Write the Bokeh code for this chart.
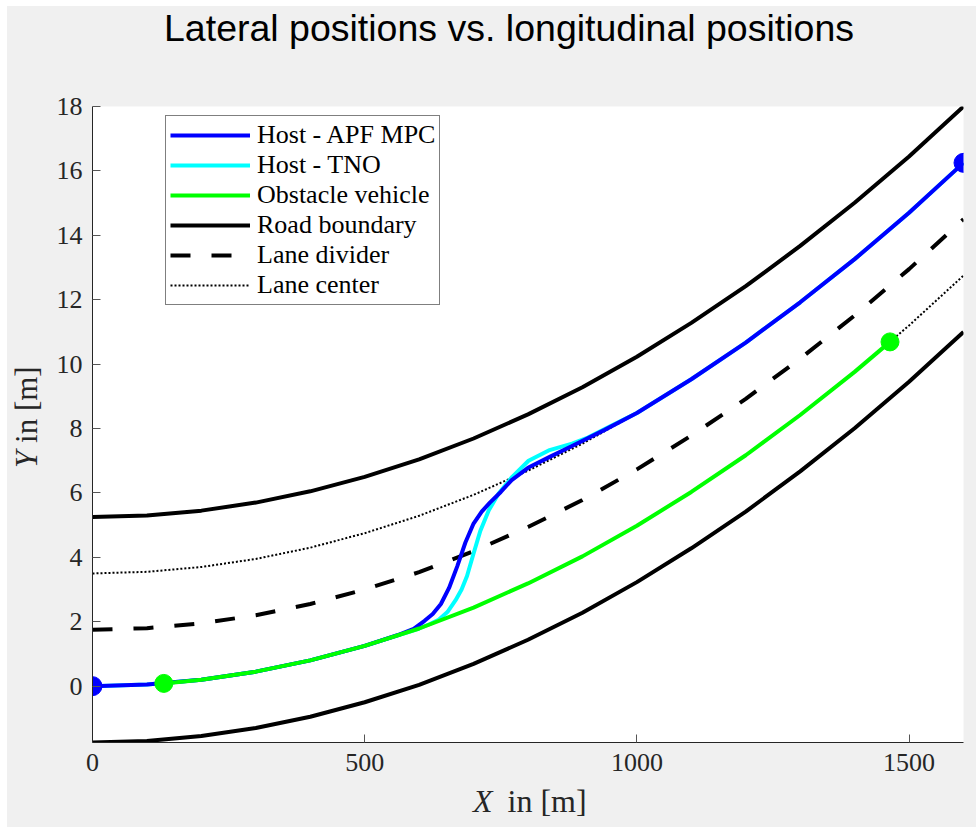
from bokeh.plotting import figure
from bokeh.layouts import column, row
from bokeh.models import Range1d, Legend, LegendItem, FixedTicker
from bokeh.core.properties import value
from bokeh.embed import file_html
from bokeh.resources import INLINE

# ---------------- data ----------------
road_x = [0, 100, 200, 300, 400, 500, 600, 700, 800, 900, 1000, 1100, 1200, 1300, 1400, 1500, 1600]
upper_boundary = [5.25, 5.30, 5.45, 5.70, 6.05, 6.50, 7.04, 7.69, 8.44, 9.28, 10.23, 11.28, 12.42, 13.67, 15.01, 16.45, 18.0]
lower_boundary = [-1.75, -1.70, -1.55, -1.30, -0.95, -0.50, 0.04, 0.69, 1.44, 2.28, 3.23, 4.28, 5.42, 6.67, 8.01, 9.45, 11.0]
lane_divider = [1.75, 1.80, 1.95, 2.20, 2.55, 3.00, 3.54, 4.19, 4.94, 5.78, 6.73, 7.78, 8.92, 10.17, 11.51, 12.95, 14.5]
center_upper = [3.5, 3.55, 3.70, 3.95, 4.30, 4.75, 5.29, 5.94, 6.69, 7.53, 8.48, 9.53, 10.67, 11.92, 13.26, 14.70, 16.25]
center_lower = [0.0, 0.05, 0.20, 0.45, 0.80, 1.25, 1.79, 2.44, 3.19, 4.03, 4.98, 6.03, 7.17, 8.42, 9.76, 11.20, 12.75]

apf_x = [0, 100, 200, 300, 400, 500, 560, 590, 610, 625, 640, 655, 670, 685, 700, 715, 730, 750, 770, 800,
         840, 880, 940, 1000, 1100, 1200, 1300, 1400, 1500, 1600]
apf_y = [0.0, 0.05, 0.20, 0.45, 0.80, 1.25, 1.58, 1.78, 2.03, 2.24, 2.55, 3.05, 3.72, 4.46, 5.05, 5.42, 5.70, 6.03, 6.40, 6.78,
         7.12, 7.45, 7.95, 8.48, 9.53, 10.67, 11.92, 13.26, 14.70, 16.25]

tno_x = [0, 100, 200, 300, 400, 500, 600, 620, 636, 652, 667, 678, 688, 700, 712, 728, 746, 771, 801, 838, 881, 910,
         950, 1000, 1100, 1200, 1300, 1400, 1500, 1600]
tno_y = [0.0, 0.05, 0.20, 0.45, 0.80, 1.25, 1.79, 1.93, 2.06, 2.30, 2.67, 3.00, 3.42, 4.12, 4.80, 5.46, 5.98, 6.50, 7.00, 7.32, 7.53, 7.72,
         8.06, 8.48, 9.53, 10.67, 11.92, 13.26, 14.70, 16.25]

obs_x = [131, 200, 300, 400, 500, 600, 700, 800, 900, 1000, 1100, 1200, 1300, 1400, 1465]
obs_y = [0.085, 0.20, 0.45, 0.80, 1.25, 1.79, 2.44, 3.19, 4.03, 4.98, 6.03, 7.17, 8.42, 9.76, 10.69]

apf_marker_x = [0, 1600]
apf_marker_y = [0.0, 16.25]
obs_marker_x = [131, 1465]
obs_marker_y = [0.085, 10.69]

x_ticks = [0, 500, 1000, 1500]
y_ticks = [0, 2, 4, 6, 8, 10, 12, 14, 16, 18]

TITLE = "Lateral positions vs. longitudinal positions"
SERIF = "Liberation Serif"
AX = "#262626"
BG = "#f0f0f0"


def strip(w, h):
    f = figure(width=w, height=h, x_range=Range1d(0, w), y_range=Range1d(0, h),
               min_border=0, x_axis_type=None, y_axis_type=None, toolbar_location=None,
               output_backend="svg", background_fill_color=BG, border_fill_color=BG,
               outline_line_color=None)
    return f


# ---- title strip (page y 6..60) ----
tf = strip(969, 54)
tf.text(x=[501.5], y=[33], text=[TITLE], text_font=value("Liberation Sans"), text_font_size=value("37.5px"),
        text_align="center", text_baseline="alphabetic", text_color="black")

# ---- y-label strip (page x 7..52, y 60..784) ----
yf = strip(45, 724)
yf.text(x=[19], y=[332], text=["Y"], angle=1.5707963, text_font=value(SERIF), text_font_style="italic",
        text_font_size=value("31px"), text_align="right", text_baseline="alphabetic", text_color=AX)
yf.text(x=[19], y=[341], text=["in [m]"], angle=1.5707963, text_font=value(SERIF),
        text_font_size=value("31px"), text_align="left", text_baseline="alphabetic", text_color=AX)

# ---- x-label strip (page y 784..827) ----
xf = strip(969, 43)
xf.text(x=[485], y=[27], text=["X"], text_font=value(SERIF), text_font_style="italic",
        text_font_size=value("32px"), text_align="right", text_baseline="alphabetic", text_color=AX)
xf.text(x=[500], y=[27], text=["in [m]"], text_font=value(SERIF),
        text_font_size=value("32px"), text_align="left", text_baseline="alphabetic", text_color=AX)

# ---- main plot ----
p = figure(width=924, height=724, output_backend="svg", toolbar_location=None,
           x_range=Range1d(0, 1600), y_range=Range1d(-1.75, 18),
           min_border_left=40, min_border_right=13, min_border_top=46, min_border_bottom=42,
           background_fill_color="white", border_fill_color=BG, outline_line_color=None)

p.xgrid.visible = False
p.ygrid.visible = False
p.xaxis.ticker = FixedTicker(ticks=x_ticks)
p.yaxis.ticker = FixedTicker(ticks=y_ticks)
for ax in (p.xaxis[0], p.yaxis[0]):
    ax.axis_line_color = AX
    ax.axis_line_width = 1
    ax.major_tick_in = 8
    ax.major_tick_out = 0
    ax.minor_tick_in = 0
    ax.minor_tick_out = 0
    ax.major_tick_line_color = "#555555"
    ax.major_label_text_font = SERIF
    ax.major_label_text_font_size = "26px"
    ax.major_label_text_color = AX
p.xaxis.major_label_standoff = 11
p.yaxis.major_label_standoff = 10

# road
r_ub = p.line(road_x, upper_boundary, line_color="black", line_width=4)
r_lb = p.line(road_x, lower_boundary, line_color="black", line_width=4)
r_div = p.line(road_x, lane_divider, line_color="black", line_width=4, line_dash="20 21")
r_cu = p.line(road_x, center_upper, line_color="black", line_width=2, line_dash="2 2")
r_cl = p.line(road_x, center_lower, line_color="black", line_width=2, line_dash="2 2")

# vehicles
r_tno = p.line(tno_x, tno_y, line_color="#00ffff", line_width=4)
r_apf = p.line(apf_x, apf_y, line_color="#0000ff", line_width=4)
r_obs = p.line(obs_x, obs_y, line_color="#00ff00", line_width=4)
p.scatter(apf_marker_x, apf_marker_y, size=19, marker="circle", fill_color="#0000ff", line_color="#0000ff")
p.scatter(obs_marker_x, obs_marker_y, size=18, marker="circle", fill_color="#00ff00", line_color="#00ff00")

legend = Legend(items=[
    LegendItem(label="Host - APF MPC", renderers=[r_apf]),
    LegendItem(label="Host - TNO", renderers=[r_tno]),
    LegendItem(label="Obstacle vehicle", renderers=[r_obs]),
    LegendItem(label="Road boundary", renderers=[r_ub]),
    LegendItem(label="Lane divider", renderers=[r_div]),
    LegendItem(label="Lane center", renderers=[r_cu]),
], location=(73, 437))
legend.label_text_font = SERIF
legend.label_text_font_size = "26px"
legend.label_text_color = "black"
legend.glyph_width = 80
legend.glyph_height = 30
legend.label_height = 30
legend.label_standoff = 7
legend.spacing = 0
legend.padding = 4
legend.margin = 0
legend.border_line_color = "black"
legend.border_line_width = 1
legend.background_fill_color = "white"
legend.background_fill_alpha = 1.0
p.add_layout(legend, "center")

inner = row(yf, p, spacing=0, styles={"background-color": BG})
layout = column(tf, inner, xf, spacing=0, styles={"background-color": BG})
layout.margin = (6, 0, 0, 7)

open("out.html", "w").write(file_html(layout, INLINE))
